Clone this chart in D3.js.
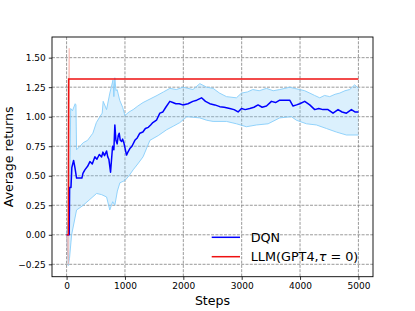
<!DOCTYPE html>
<html><head><meta charset="utf-8">
<script src="https://cdn.jsdelivr.net/npm/d3@7"></script>
<style>body{margin:0;background:#fff}svg{display:block;font-family:"DejaVu Sans",sans-serif}</style>
</head><body><svg id="c" width="415" height="311"></svg>
<script>
// DQN mean
const dqnSteps = [0,45,51,75,90,120,142,171,262,280,313,360,400,440,485,520,560,600,622,650,685,705,724,753,788,810,827,845,866,885,901,920,942,960,981,1027,1050,1084,1120,1170,1210,1255,1307,1350,1400,1440,1478,1540,1598,1650,1700,1769,1820,1872,1930,1991,2080,2163,2230,2312,2380,2454,2540,2625,2700,2796,2870,2938,2997,3060,3139,3210,3281,3350,3425,3510,3580,3652,3740,3823,3880,3940,3995,4080,4166,4252,4320,4394,4479,4565,4651,4720,4795,4880,4940,5000];
const dqnMean  = [0,0,0.40,0.40,0.57,0.63,0.57,0.48,0.48,0.52,0.55,0.58,0.62,0.60,0.66,0.64,0.68,0.66,0.70,0.67,0.71,0.66,0.64,0.53,0.75,0.72,0.93,0.80,0.77,0.84,0.86,0.80,0.79,0.81,0.78,0.675,0.70,0.73,0.75,0.80,0.82,0.86,0.87,0.90,0.91,0.93,0.95,0.97,1.03,1.04,1.08,1.13,1.12,1.11,1.11,1.10,1.11,1.13,1.14,1.16,1.13,1.11,1.10,1.085,1.08,1.07,1.06,1.04,1.07,1.06,1.07,1.08,1.10,1.08,1.09,1.13,1.12,1.14,1.14,1.14,1.09,1.10,1.11,1.13,1.10,1.06,1.07,1.06,1.06,1.03,1.06,1.04,1.03,1.06,1.04,1.04];
// DQN band
const upSteps = [0,51,70,100,147,160,171,230,285,360,450,510,570,610,627,685,741,795,810,827,845,866,910,960,1000,1070,1140,1220,1310,1430,1550,1660,1770,1880,1995,2080,2165,2283,2400,2510,2620,2740,2910,2997,3100,3190,3300,3425,3540,3652,3740,3823,3900,3995,4080,4166,4250,4337,4420,4508,4600,4680,4770,4850,4936,5000];
const upVals  = [0,0.2,1.07,1.05,1.11,1.10,0.72,0.75,0.78,0.80,0.86,0.95,1.0,1.03,1.13,1.06,1.20,1.31,1.17,1.33,1.22,1.23,1.14,1.08,1.01,1.04,1.06,1.09,1.12,1.15,1.18,1.21,1.24,1.23,1.25,1.24,1.23,1.28,1.25,1.24,1.20,1.17,1.16,1.20,1.21,1.23,1.22,1.24,1.22,1.23,1.24,1.25,1.24,1.23,1.22,1.20,1.18,1.16,1.18,1.17,1.19,1.20,1.22,1.23,1.27,1.24];
const loSteps = [0,30,50,86,171,230,285,400,514,600,685,740,790,827,870,913,1000,1070,1140,1220,1310,1428,1570,1716,1830,1940,2060,2283,2400,2510,2740,2910,3082,3253,3453,3652,3853,3938,4110,4281,4452,4623,4795,5000];
const loVals  = [0,-0.26,-0.2,0.0,0.21,0.23,0.25,0.30,0.35,0.34,0.32,0.21,0.28,0.25,0.37,0.44,0.46,0.50,0.55,0.60,0.66,0.80,0.84,0.89,0.92,0.95,1.0,0.99,0.97,0.96,0.96,0.94,0.915,0.93,0.94,0.99,1.0,0.97,0.94,0.93,0.90,0.87,0.845,0.845];
// LLM
const llmSteps = [0,30,35,5000];
const llmVals  = [0,0,1.32,1.32];
const llmBandSteps = [0,30,35,45,50];
const llmBandLo = [0,-0.25,-0.2,1.1,1.32];
const llmBandUp = [0,0,1.32,1.58,1.32];
const xTicks = [0,1000,2000,3000,4000,5000];
const yTicks = [-0.25,0,0.25,0.5,0.75,1.0,1.25,1.5];

const L=52,R=373,T=37,B=276.7;
const svg=d3.select("#c");
const x=d3.scaleLinear().domain([-250,5250]).range([L,R]);
const y=d3.scaleLinear().domain([-0.355,1.675]).range([B,T]);

// grid
const g=svg.append("g");
g.selectAll(".gx").data(xTicks).join("line").attr("x1",d=>x(d)).attr("x2",d=>x(d)).attr("y1",T).attr("y2",B)
 .attr("stroke","#808080").attr("stroke-width",0.8).attr("stroke-dasharray","3,1.3");
g.selectAll(".gy").data(yTicks).join("line").attr("y1",d=>y(d)).attr("y2",d=>y(d)).attr("x1",L).attr("x2",R)
 .attr("stroke","#808080").attr("stroke-width",0.8).attr("stroke-dasharray","3,1.3");

const allSteps=Array.from(new Set([...upSteps,...loSteps])).sort((a,b)=>a-b);
const interp=(xs,ys,s)=>{for(let i=0;i<xs.length-1;i++){if(s>=xs[i]&&s<=xs[i+1]){const t=(s-xs[i])/(xs[i+1]-xs[i]||1);return ys[i]+t*(ys[i+1]-ys[i]);}}return ys[ys.length-1];};
const band=allSteps.map(s=>({s,lo:interp(loSteps,loVals,s),up:interp(upSteps,upVals,s)}));
svg.append("path").datum(band).attr("d",d3.area().x(d=>x(d.s)).y0(d=>y(d.lo)).y1(d=>y(d.up)))
 .attr("fill","#87cefa").attr("fill-opacity",0.3);
const line=d3.line().x(d=>x(d[0])).y(d=>y(d[1]));
svg.append("path").datum(upSteps.map((s,i)=>[s,upVals[i]])).attr("d",line).attr("fill","none").attr("stroke","#87cefa").attr("stroke-width",0.9);
svg.append("path").datum(loSteps.map((s,i)=>[s,loVals[i]])).attr("d",line).attr("fill","none").attr("stroke","#87cefa").attr("stroke-width",0.9);

// LLM band
const lb=llmBandSteps.map((s,i)=>({s,lo:llmBandLo[i],up:llmBandUp[i]}));
svg.append("path").datum(lb).attr("d",d3.area().x(d=>x(d.s)).y0(d=>y(d.lo)).y1(d=>y(d.up)))
 .attr("fill","#fa8072").attr("fill-opacity",0.35).attr("stroke","#f7b0a8").attr("stroke-width",0.6);

// mean lines
svg.append("path").datum(dqnSteps.map((s,i)=>[s,dqnMean[i]])).attr("d",line).attr("fill","none").attr("stroke","#0000ff").attr("stroke-width",1.5).attr("stroke-linejoin","round");
svg.append("path").datum(llmSteps.map((s,i)=>[s,llmVals[i]])).attr("d",line).attr("fill","none").attr("stroke","#ee1111").attr("stroke-width",1.5);

// frame
svg.append("rect").attr("x",L).attr("y",T).attr("width",R-L).attr("height",B-T).attr("fill","none").attr("stroke","#000").attr("stroke-width",0.9);

// axes
const xa=svg.append("g").attr("transform",`translate(0,${B})`).call(d3.axisBottom(x).tickValues(xTicks).tickSize(3.2).tickPadding(3).tickFormat(d3.format("d")));
const ya=svg.append("g").attr("transform",`translate(${L},0)`).call(d3.axisLeft(y).tickValues(yTicks).tickSize(3.2).tickPadding(3).tickFormat(d=>d3.format(".2f")(d).replace("-","\u2212")));
[xa,ya].forEach(a=>{a.select(".domain").remove();a.selectAll("text").attr("font-family","DejaVu Sans").attr("font-size",9).attr("fill","#000");a.selectAll("line").attr("stroke","#000").attr("stroke-width",0.8);});

svg.append("text").attr("x",(L+R)/2).attr("y",305).attr("text-anchor","middle").attr("font-size",12.6).text("Steps");
svg.append("text").attr("transform",`translate(13,${(T+B)/2}) rotate(-90)`).attr("text-anchor","middle").attr("font-size",12.6).text("Average returns");

// legend
const lg=[{n:"DQN",c:"#0000ff"},{n:"LLM",c:"#ee1111"}];
lg.forEach((d,i)=>{
  const yy=237.3+i*19.4;
  svg.append("line").attr("x1",211.7).attr("x2",240).attr("y1",yy).attr("y2",yy).attr("stroke",d.c).attr("stroke-width",1.5);
  const t=svg.append("text").attr("x",250.7).attr("y",yy+4.5).attr("font-size",12.8);
  if(i===0) t.text("DQN");
  else {t.append("tspan").text("LLM(GPT4,");t.append("tspan").attr("font-style","italic").text("\u03c4");t.append("tspan").text(" = 0)");}
});
</script></body></html>
